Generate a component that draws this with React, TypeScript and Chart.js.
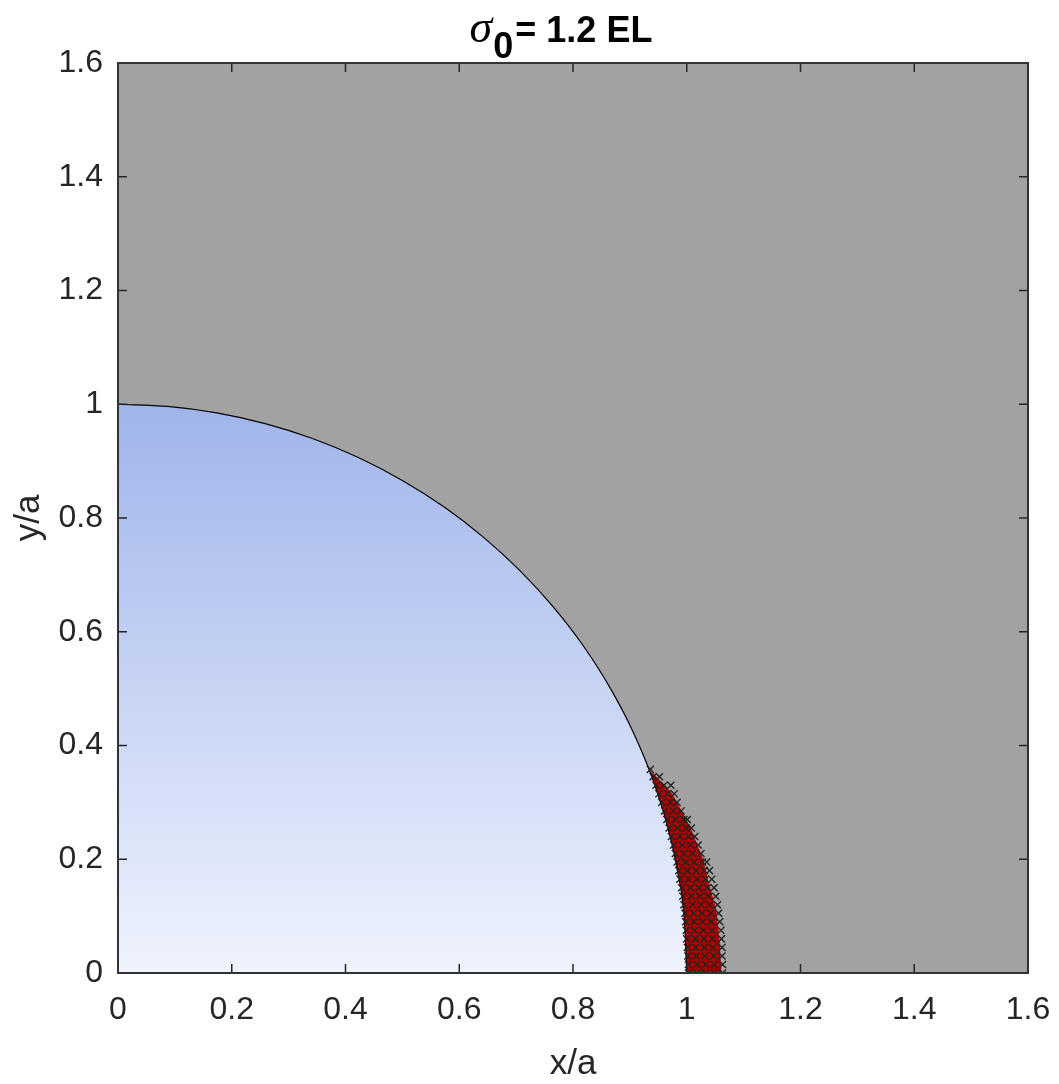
import { useEffect, useRef } from 'react';
import { Chart, registerables } from 'chart.js';
Chart.register(...registerables);

// Quarter circle boundary r = 1 (x/a, y/a), 5° steps from 90° to 0°
const circleX = [0, 0.0872, 0.1736, 0.2588, 0.342, 0.4226, 0.5, 0.5736, 0.6428, 0.7071, 0.766, 0.8192, 0.866, 0.9063, 0.9397, 0.9659, 0.9848, 0.9962, 1.0];
const circleY = [1.0, 0.9962, 0.9848, 0.9659, 0.9397, 0.9063, 0.866, 0.8192, 0.766, 0.7071, 0.6428, 0.5736, 0.5, 0.4226, 0.342, 0.2588, 0.1736, 0.0872, 0];

// Red zone: outer edge (bottom -> top), then inner edge along the circle (top -> bottom)
const redOuterX = [1.061, 1.058, 1.052, 1.037, 1.029, 1.006, 0.974, 0.939];
const redOuterY = [0, 0.053, 0.111, 0.164, 0.199, 0.257, 0.316, 0.353];
const redInnerX = [0.936, 0.9397, 0.9539, 0.9659, 0.9744, 0.9848, 0.9908, 0.9962, 1.0];
const redInnerY = [0.352, 0.342, 0.3, 0.2588, 0.225, 0.1736, 0.135, 0.0872, 0];

// Marker (x) rows
const markerRowsY = [0, 0.015, 0.03, 0.045, 0.06, 0.075, 0.09, 0.105, 0.12, 0.135, 0.15, 0.165, 0.18, 0.195, 0.21, 0.225, 0.24, 0.255, 0.27, 0.285, 0.3, 0.315, 0.33, 0.345, 0.358];
const markerRowsX = [
  [1.003, 1.018, 1.033, 1.048, 1.063],
  [1.003, 1.018, 1.033, 1.048, 1.063],
  [1.002, 1.017, 1.032, 1.047, 1.062],
  [1.001, 1.016, 1.031, 1.046, 1.062],
  [1.0, 1.015, 1.03, 1.045, 1.061],
  [0.999, 1.014, 1.029, 1.044, 1.06],
  [0.998, 1.013, 1.028, 1.043, 1.058],
  [0.997, 1.012, 1.027, 1.042, 1.056],
  [0.995, 1.01, 1.025, 1.04, 1.054],
  [0.993, 1.008, 1.023, 1.038, 1.051],
  [0.991, 1.006, 1.021, 1.036, 1.048],
  [0.988, 1.003, 1.018, 1.033, 1.044],
  [0.986, 1.001, 1.016, 1.031, 1.04],
  [0.983, 0.998, 1.013, 1.028, 1.035],
  [0.98, 0.995, 1.01, 1.025],
  [0.977, 0.992, 1.007, 1.02],
  [0.973, 0.988, 1.003, 1.014],
  [0.969, 0.984, 0.999, 1.008],
  [0.965, 0.98, 0.995, 1.001],
  [0.961, 0.976, 0.99],
  [0.956, 0.971, 0.983],
  [0.951, 0.966, 0.978],
  [0.946, 0.96, 0.972],
  [0.941, 0.952],
  [0.936],
];

const axisMin = 0;
const axisMax = 1.6;
const tickStep = 0.2;

const FONT = '"Liberation Sans", Arial, Helvetica, sans-serif';
const GRAY = '#a2a2a2';
const BLUE_TOP = '#9fb4ea';
const BLUE_BOTTOM = '#eff3fd';
const RED = '#ac0000';
const TXT = '#262626';

const fmt = (v: any) => String(Math.round(Number(v) * 10) / 10);

export default function App() {
  const ref = useRef<HTMLCanvasElement>(null);
  useEffect(() => {
    document.body.style.margin = '0';
    const canvas = ref.current!;

    const circleData = circleX.map((x, i) => ({ x, y: circleY[i] }));
    const redData = [
      ...redOuterX.map((x, i) => ({ x, y: redOuterY[i] })),
      ...redInnerX.map((x, i) => ({ x, y: redInnerY[i] })),
      { x: redOuterX[0], y: redOuterY[0] },
    ];
    const markerData: { x: number; y: number }[] = [];
    markerRowsY.forEach((y, r) => markerRowsX[r].forEach((x) => markerData.push({ x, y })));

    const bgPlugin = {
      id: 'bgPlugin',
      beforeDraw(chart: any) {
        const { ctx, chartArea: a } = chart;
        ctx.save();
        ctx.fillStyle = '#ffffff';
        ctx.fillRect(0, 0, chart.width, chart.height);
        ctx.fillStyle = GRAY;
        ctx.fillRect(a.left, a.top, a.right - a.left, a.bottom - a.top);
        ctx.restore();
      },
    };

    const framePlugin = {
      id: 'framePlugin',
      afterDatasetsDraw(chart: any) {
        const { ctx, chartArea: a, scales } = chart;
        ctx.save();
        ctx.strokeStyle = TXT;
        ctx.lineWidth = 1.5;
        const len = 9;
        ctx.beginPath();
        scales.x.ticks.forEach((t: any) => {
          const px = scales.x.getPixelForValue(t.value);
          ctx.moveTo(px, a.bottom);
          ctx.lineTo(px, a.bottom - len);
          ctx.moveTo(px, a.top);
          ctx.lineTo(px, a.top + len);
        });
        scales.y.ticks.forEach((t: any) => {
          const py = scales.y.getPixelForValue(t.value);
          ctx.moveTo(a.left, py);
          ctx.lineTo(a.left + len, py);
          ctx.moveTo(a.right, py);
          ctx.lineTo(a.right - len, py);
        });
        ctx.stroke();
        ctx.lineWidth = 2;
        ctx.strokeStyle = '#333333';
        ctx.strokeRect(a.left, a.top, a.right - a.left, a.bottom - a.top);
        ctx.restore();
      },
    };

    const titlePlugin = {
      id: 'titlePlugin',
      afterDraw(chart: any) {
        const { ctx, chartArea: a } = chart;
        ctx.save();
        const fSig = 'italic 46px "Liberation Serif", "DejaVu Serif", serif';
        const fB = 'bold 36px ' + FONT;
        ctx.font = fSig;
        const w1 = ctx.measureText('σ').width;
        ctx.font = fB;
        const w2 = ctx.measureText('0').width;
        const w3 = ctx.measureText('= 1.2 EL').width;
        const total = w1 + 1 + w2 + 2 + w3;
        let x = (a.left + a.right) / 2 - 12 - total / 2;
        ctx.fillStyle = '#000000';
        ctx.textBaseline = 'alphabetic';
        ctx.textAlign = 'left';
        ctx.font = fSig;
        ctx.fillText('σ', x, 42);
        x += w1 + 1;
        ctx.font = fB;
        ctx.fillText('0', x, 58);
        x += w2 + 2;
        ctx.fillText('= 1.2 EL', x, 42);
        ctx.restore();
      },
    };

    const chart = new Chart(canvas, {
      type: 'scatter',
      data: {
        datasets: [
          {
            data: markerData,
            showLine: false,
            pointStyle: 'crossRot',
            pointRadius: 5,
            pointBorderColor: '#222222',
            pointBorderWidth: 1.4,
            pointBackgroundColor: 'rgba(0,0,0,0)',
          } as any,
          {
            data: circleData,
            showLine: true,
            pointRadius: 0,
            borderColor: '#000000',
            borderWidth: 1.2,
            cubicInterpolationMode: 'monotone',
            fill: 'origin',
            backgroundColor: (c: any) => {
              const ch = c.chart;
              if (!ch.chartArea) return BLUE_TOP;
              const y1 = ch.scales.y.getPixelForValue(1);
              const y0 = ch.scales.y.getPixelForValue(0);
              const g = ch.ctx.createLinearGradient(0, y1, 0, y0);
              g.addColorStop(0, BLUE_TOP);
              g.addColorStop(1, BLUE_BOTTOM);
              return g;
            },
          } as any,
          {
            data: redData,
            showLine: true,
            pointRadius: 0,
            borderWidth: 0,
            borderColor: RED,
            backgroundColor: RED,
            fill: 'shape',
          } as any,
        ],
      },
      options: {
        animation: false,
        responsive: false,
        devicePixelRatio: 1,
        events: [],
        layout: { padding: { top: 63, right: 31, left: 0, bottom: 0 } },
        plugins: {
          legend: { display: false },
          tooltip: { enabled: false },
          title: { display: false },
        },
        scales: {
          x: {
            type: 'linear',
            min: axisMin,
            max: axisMax,
            grid: { display: false, drawTicks: false },
            border: { display: false },
            ticks: {
              stepSize: tickStep,
              padding: 18,
              color: TXT,
              font: { family: FONT, size: 32 },
              callback: fmt,
              maxRotation: 0,
              autoSkip: false,
            },
            title: {
              display: true,
              text: 'x/a',
              color: TXT,
              font: { family: FONT, size: 35, lineHeight: 1 },
              padding: { top: 0, bottom: 2 },
            },
            afterFit(s: any) {
              s.height = 111;
              s.paddingLeft = 0;
              s.paddingRight = 0;
            },
          },
          y: {
            type: 'linear',
            min: axisMin,
            max: axisMax,
            grid: { display: false, drawTicks: false },
            border: { display: false },
            ticks: {
              stepSize: tickStep,
              padding: 15,
              color: TXT,
              font: { family: FONT, size: 32 },
              callback: fmt,
              autoSkip: false,
            },
            title: {
              display: true,
              text: 'y/a',
              color: TXT,
              font: { family: FONT, size: 35, lineHeight: 1 },
              padding: { top: 12, bottom: 0 },
            },
            afterFit(s: any) {
              s.width = 118;
              s.paddingTop = 0;
              s.paddingBottom = 0;
            },
          },
        },
      } as any,
      plugins: [bgPlugin, framePlugin, titlePlugin],
    });
    return () => chart.destroy();
  }, []);
  return <canvas ref={ref} width={1059} height={1084} style={{ display: 'block', width: 1059, height: 1084 }} />;
}
